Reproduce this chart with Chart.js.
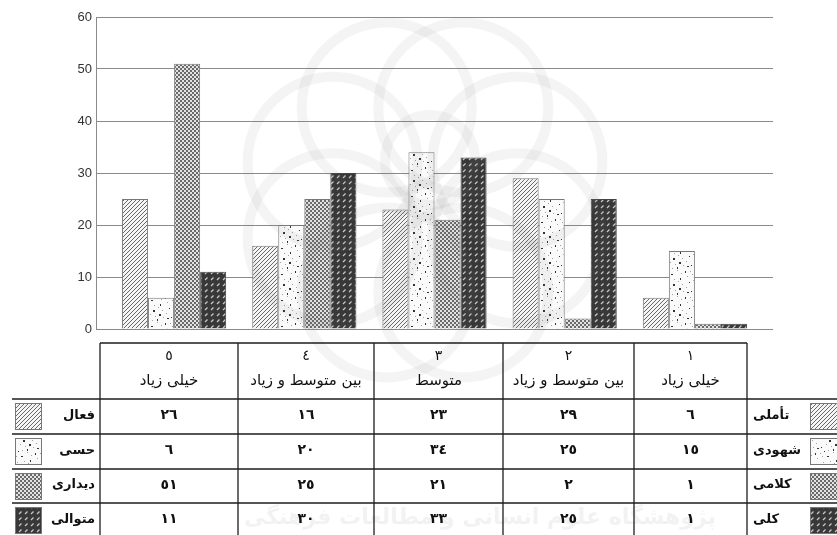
<!DOCTYPE html>
<html>
<head>
<meta charset="utf-8">
<script src="https://cdn.jsdelivr.net/npm/chart.js@4.4.1/dist/chart.umd.min.js"></script>
<style>
  html, body { margin: 0; padding: 0; background: #fff; }
  #wrap { width: 837px; height: 535px; }
</style>
</head>
<body>
<div id="wrap"><canvas id="myChart" width="837" height="535"></canvas></div>
<script>
// categories, left to right as in the table header
var groupNumbers = [5, 4, 3, 2, 1];
var groupNames = ["خیلی زیاد", "بین متوسط و زیاد", "متوسط", "بین متوسط و زیاد", "خیلی زیاد"];
var yTicks = [0, 10, 20, 30, 40, 50, 60];

// bar heights as drawn in the chart
var faal = [25, 16, 23, 29, 6];
var hessi = [6, 20, 34, 25, 15];
var didari = [51, 25, 21, 2, 1];
var motavali = [11, 30, 33, 25, 1];

// numbers printed in the table under the chart
var faalTable = [26, 16, 23, 29, 6];
var hessiTable = [6, 20, 34, 25, 15];
var didariTable = [51, 25, 21, 2, 1];
var motavaliTable = [11, 30, 33, 25, 1];

var leftLabels = ["فعال", "حسی", "دیداری", "متوالی"];
var rightLabels = ["تأملی", "شهودی", "کلامی", "کلی"];

// ---- fill patterns ----
function makeTile(w, h, draw) {
  var c = document.createElement("canvas");
  c.width = w;
  c.height = h;
  var g = c.getContext("2d");
  draw(g, w, h);
  return c;
}
var tiles = [
  makeTile(4, 4, function (g, w, h) {
    g.fillStyle = "#f4f4f4";
    g.fillRect(0, 0, w, h);
    g.strokeStyle = "#6a6a6a";
    g.lineWidth = 1;
    g.beginPath();
    g.moveTo(-1, 5); g.lineTo(5, -1);
    g.moveTo(-1, 1); g.lineTo(1, -1);
    g.moveTo(3, 5); g.lineTo(5, 3);
    g.stroke();
  }),
  makeTile(26, 26, function (g, w, h) {
    g.fillStyle = "#fafafa";
    g.fillRect(0, 0, w, h);
    var dark = [[3, 2], [15, 5], [9, 11], [21, 14], [4, 18], [13, 22], [23, 24], [18, 9], [1, 7], [11, 6]];
    var light = [[7, 5], [20, 2], [11, 16], [1, 10], [24, 19], [6, 24], [16, 14], [10, 1],
                 [22, 8], [5, 13], [17, 20], [2, 21], [14, 11], [25, 4]];
    g.fillStyle = "#a0a0a0";
    light.forEach(function (p) { g.fillRect(p[0], p[1], 1, 1); });
    g.fillStyle = "#333";
    dark.forEach(function (p, k) { g.fillRect(p[0], p[1], k % 3 === 0 ? 2 : 1, k % 2 === 0 ? 2 : 1); });
  }),
  makeTile(4, 4, function (g, w, h) {
    g.fillStyle = "#e2e2e2";
    g.fillRect(0, 0, w, h);
    g.fillStyle = "#6a6a6a";
    g.fillRect(0, 0, 2, 2);
    g.fillRect(2, 2, 2, 2);
  }),
  makeTile(6, 6, function (g, w, h) {
    g.fillStyle = "#383838";
    g.fillRect(0, 0, w, h);
    g.strokeStyle = "#c8c8c8";
    g.lineWidth = 1.2;
    g.beginPath();
    g.moveTo(1, 4); g.lineTo(3.5, 1.5);
    g.stroke();
  })
];
var ctx = document.getElementById("myChart").getContext("2d");
var patterns = tiles.map(function (t) { return ctx.createPattern(t, "repeat"); });

function toArabicDigits(n) {
  return String(n).replace(/[0-9]/g, function (d) {
    return String.fromCharCode(0x0660 + Number(d));
  });
}
function points(arr) {
  return arr.map(function (v, i) { return { x: i, y: v }; });
}

var seriesValues = [faal, hessi, didari, motavali];
var tableRows = [faalTable, hessiTable, didariTable, motavaliTable];

// faint watermark of the source page
var watermarkPlugin = {
  id: "watermark",
  afterDraw: function (chart) {
    var c = chart.ctx;
    c.save();
    c.strokeStyle = "rgba(110,110,110,0.08)";
    c.lineWidth = 10;
    for (var a = 0; a < 8; a++) {
      var ang = a * Math.PI / 4 + Math.PI / 8;
      c.beginPath();
      c.arc(425 + 100 * Math.cos(ang), 200 + 100 * Math.sin(ang), 85, 0, Math.PI * 2);
      c.stroke();
    }
    c.beginPath();
    c.arc(430, 160, 45, 0, Math.PI * 2);
    c.stroke();
    c.fillStyle = "rgba(110,110,110,0.09)";
    c.font = "bold 22px 'DejaVu Sans'";
    c.textAlign = "center";
    c.textBaseline = "middle";
    c.fillText("پژوهشگاه علوم انسانی و مطالعات فرهنگی", 480, 518);
    c.restore();
  }
};

var colX = [100, 238, 374, 503, 634, 747];
var rowY = [399, 434, 469, 503, 538];
var tablePlugin = {
  id: "dataTable",
  afterDraw: function (chart) {
    var c = chart.ctx;
    c.save();
    c.strokeStyle = "#1e1e1e";
    c.lineWidth = 1.3;
    c.beginPath();
    c.moveTo(colX[0], 343); c.lineTo(colX[5], 343);
    for (var r = 0; r < 4; r++) {
      c.moveTo(12, rowY[r]); c.lineTo(837, rowY[r]);
    }
    colX.forEach(function (x) { c.moveTo(x, 343); c.lineTo(x, 535); });
    c.stroke();

    c.fillStyle = "#111";
    c.textAlign = "center";
    c.textBaseline = "middle";
    c.direction = "rtl";
    for (var i = 0; i < 5; i++) {
      var cx = (colX[i] + colX[i + 1]) / 2;
      c.font = "14px 'DejaVu Sans'";
      c.fillText(toArabicDigits(groupNumbers[i]), cx, 356);
      c.font = "15px 'DejaVu Sans'";
      c.fillText(groupNames[i], cx, 381);
      for (var r2 = 0; r2 < 4; r2++) {
        c.font = "bold 14px 'DejaVu Sans'";
        c.fillText(toArabicDigits(tableRows[r2][i]), cx, (rowY[r2] + rowY[r2 + 1]) / 2 - 1);
      }
    }
    for (var k = 0; k < 4; k++) {
      var cy = (rowY[k] + rowY[k + 1]) / 2 - 1;
      c.font = "bold 13px 'DejaVu Sans'";
      c.textAlign = "right";
      c.fillText(leftLabels[k], 95, cy);
      c.textAlign = "left";
      c.fillText(rightLabels[k], 753, cy);
      c.fillStyle = patterns[k];
      c.fillRect(15, rowY[k] + 4, 27, 27);
      c.fillRect(810, rowY[k] + 4, 27, 27);
      c.strokeStyle = "#777";
      c.lineWidth = 1;
      c.strokeRect(15.5, rowY[k] + 4.5, 26, 26);
      c.strokeRect(810.5, rowY[k] + 4.5, 28, 26);
      c.fillStyle = "#111";
    }
    c.restore();
  }
};

var myChart = new Chart(ctx, {
  type: "bar",
  data: {
    datasets: seriesValues.map(function (vals, k) {
      return {
        label: leftLabels[k],
        data: points(vals),
        backgroundColor: patterns[k],
        borderColor: k === 3 ? "#444" : "#777",
        borderWidth: 1,
        categoryPercentage: 0.8,
        barPercentage: 1.0
      };
    })
  },
  options: {
    responsive: false,
    animation: false,
    layout: { padding: { left: 0, top: 17, right: 64, bottom: 206 } },
    plugins: { legend: { display: false }, tooltip: { enabled: false } },
    scales: {
      x: {
        type: "linear",
        min: -0.6,
        max: 4.6,
        offset: false,
        display: false,
        afterBuildTicks: function (scale) {
          scale.ticks = groupNumbers.map(function (n, i) { return { value: i }; });
        }
      },
      y: {
        min: 0,
        max: 60,
        afterFit: function (scale) { scale.width = 96; },
        afterBuildTicks: function (scale) {
          scale.ticks = yTicks.map(function (v) { return { value: v }; });
        },
        border: { display: true, color: "#8a8a8a", width: 1 },
        grid: { color: "#8a8a8a", lineWidth: 1, drawTicks: false },
        ticks: {
          padding: 4,
          color: "#333",
          font: { family: "'Liberation Sans', Arial, sans-serif", size: 13 }
        }
      }
    }
  },
  plugins: [watermarkPlugin, tablePlugin]
});
</script>
</body>
</html>
